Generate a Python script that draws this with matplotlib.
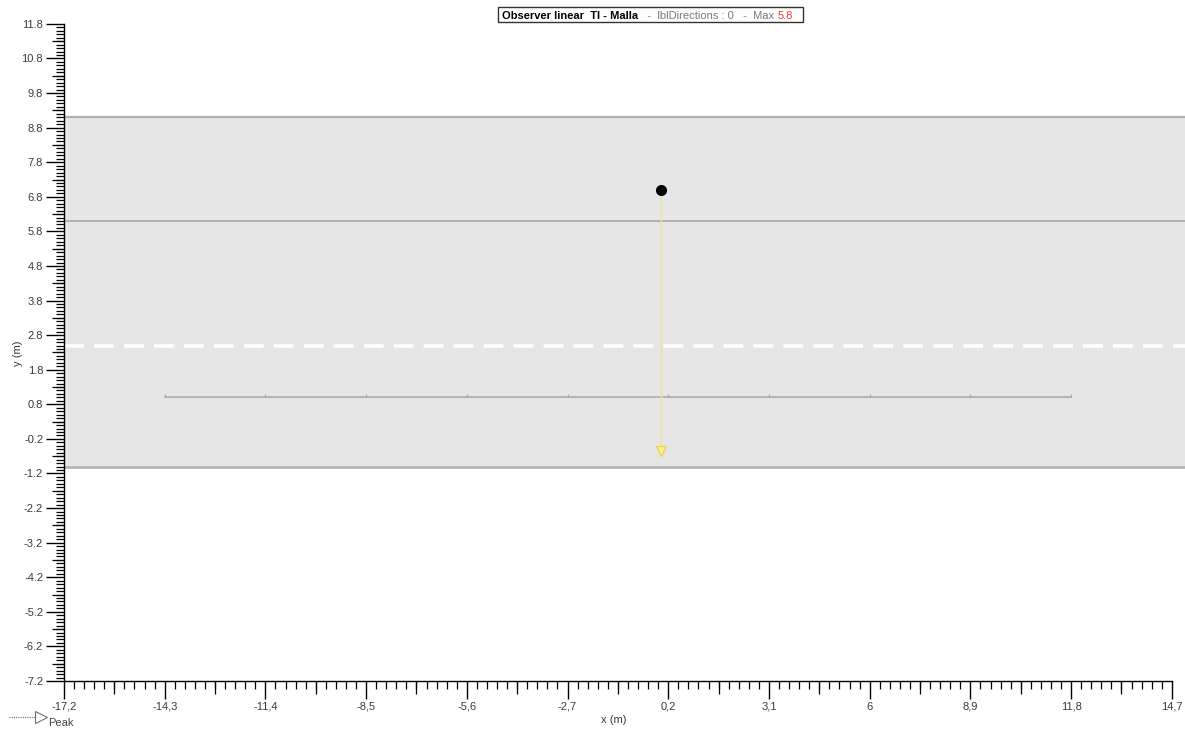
import numpy as np
import matplotlib.pyplot as plt
from matplotlib.patches import Rectangle
from matplotlib.lines import Line2D

plt.rcParams['font.family'] = ['Liberation Sans', 'DejaVu Sans']

# axis ticks (x labels use comma decimals, y labels use points, as in the source)
x_ticks = [-17.2, -14.3, -11.4, -8.5, -5.6, -2.7, 0.2, 3.1, 6.0, 8.9, 11.8, 14.7]
x_labels = ['-17,2', '-14,3', '-11,4', '-8,5', '-5,6', '-2,7', '0,2', '3,1', '6', '8,9', '11,8', '14,7']
y_ticks = [11.8, 10.8, 9.8, 8.8, 7.8, 6.8, 5.8, 4.8, 3.8, 2.8, 1.8, 0.8,
           -0.2, -1.2, -2.2, -3.2, -4.2, -5.2, -6.2, -7.2]
y_labels = ['11.8', '10.8', '9.8', '8.8', '7.8', '6.8', '5.8', '4.8', '3.8', '2.8', '1.8', '0.8',
            '-0.2', '-1.2', '-2.2', '-3.2', '-4.2', '-5.2', '-6.2', '-7.2']

# road geometry
road_edges = [-1.0, 9.1]
lane_line_y = 6.1
centre_dash_y = 2.5

# calculation grid (observer line)
grid_x = [-14.3, -11.4, -8.5, -5.6, -2.7, 0.2, 3.1, 6.0, 8.9, 11.8]
grid_y = 1.0

# observer and peak direction
obs_x, obs_y = 0.0, 7.0
peak_end_y = -0.55

W, H = 1185, 731
fig = plt.figure(figsize=(W / 100, H / 100), dpi=100)
ax = fig.add_axes([64 / W, 50 / H, (W - 64) / W, 681 / H])
ax.set_xlim(-17.2, 15.08)
ax.set_ylim(-7.2, 12.49)

# road band
ax.axhspan(road_edges[0], road_edges[1], color='#e6e6e6', zorder=0)
ax.axhline(road_edges[1], color='#b0b0b0', lw=1.6, zorder=1)
ax.axhline(road_edges[0], color='#b0b0b0', lw=1.8, zorder=1)
ax.axhline(lane_line_y, color='#a8a8a8', lw=1.2, zorder=1)
ax.axhline(centre_dash_y, color='white', lw=2.6, dashes=(5.5, 2.8), zorder=1)

# observer grid line with small ticks
ax.plot([grid_x[0], grid_x[-1]], [grid_y, grid_y], color='#a8a8a8', lw=1.1, zorder=2)
ax.vlines(grid_x, grid_y, grid_y + 0.1, color='#a8a8a8', lw=0.9, zorder=2)

# peak direction
ax.plot([obs_x, obs_x], [obs_y, peak_end_y], color='#efe39a', lw=1.0, zorder=3)
ax.plot(obs_x, peak_end_y, marker='v', ms=7, mfc='#f8ee9a', mec='#eed24a', mew=1.0, zorder=4)
ax.plot(obs_x, obs_y, 'o', color='black', ms=7, zorder=5)

# spines and ticks
for s in ['top', 'right']:
    ax.spines[s].set_visible(False)
ax.spines['bottom'].set_bounds(x_ticks[0], x_ticks[-1])
ax.spines['left'].set_bounds(y_ticks[-1], y_ticks[0])
ax.spines['bottom'].set_linewidth(1.0)
ax.spines['left'].set_linewidth(1.0)

ax.set_xticks(x_ticks, x_labels)
ax.set_yticks(y_ticks, y_labels)
ax.set_xticks(x_ticks[0] + 0.29 * np.arange(111), minor=True)
ax.set_yticks(y_ticks[-1] + 0.1 * np.arange(191), minor=True)
ax.tick_params(which='major', length=13, width=1.0, color='black',
               labelsize=8, labelcolor='#3a3a3a', pad=2)
ax.tick_params(which='minor', length=5.8, width=0.9, color='black')

# medium ticks halfway between labels
secx = ax.secondary_xaxis('bottom')
secx.set_xticks(np.array(x_ticks[:-1]) + 1.45, [''] * 11)
secx.tick_params(length=9, width=0.9, color='black')
secx.spines['bottom'].set_visible(False)
secy = ax.secondary_yaxis('left')
secy.set_yticks(np.array(y_ticks[1:]) + 0.5, [''] * 19)
secy.tick_params(length=9, width=0.9, color='black')
secy.spines['left'].set_visible(False)

fig.text(614 / W, 1 - 720 / H, 'x (m)', fontsize=8, color='#3a3a3a', ha='center', va='center')
fig.text(18 / W, 1 - 353 / H, 'y (m)', fontsize=8, color='#3a3a3a', ha='center', va='center',
         rotation=90)

# title with mixed colours in a box
t1 = fig.text(502 / W, 1 - 19 / H, 'Observer linear  TI - Malla', fontsize=8,
              fontweight='bold', color='black', va='baseline')
t2 = plt.annotate('   -  lblDirections : 0   -  Max ', xy=(1, 0), xycoords=t1,
                  fontsize=8, color='#7d7486', va='bottom')
t3 = plt.annotate('5.8', xy=(1, 0), xycoords=t2, fontsize=8, color='#e8383a', va='bottom')
fig.canvas.draw()
r = fig.canvas.get_renderer()
e1 = t1.get_window_extent(r)
e3 = t3.get_window_extent(r)
x0, x1 = e1.x0 - 4, e3.x1 + 10
y0, y1 = H - 22, H - 7
fig.patches.append(Rectangle((x0 / W, y0 / H), (x1 - x0) / W, (y1 - y0) / H,
                             transform=fig.transFigure, fill=False, ec='#333333', lw=1.0))

# "Peak" legend
fig.lines.append(Line2D([9 / W, 38 / W], [1 - 717 / H] * 2, transform=fig.transFigure,
                        color='#707070', lw=0.8, ls=(0, (1, 1))))
fig.lines.append(Line2D([41 / W], [1 - 717 / H], transform=fig.transFigure, marker='>', ms=8,
                        mfc='white', mec='#707070', mew=0.8))
fig.text(48 / W, 1 - 723 / H, 'Peak', fontsize=8, color='#444444', va='center')

fig.savefig('out.png', dpi=100)
